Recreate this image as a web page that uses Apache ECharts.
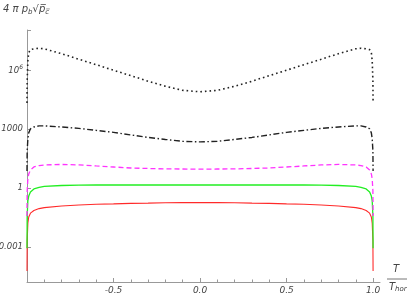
<!DOCTYPE html>
<html>
<head>
<meta charset="utf-8">
<script src="https://cdn.jsdelivr.net/npm/echarts@6/dist/echarts.min.js"></script>
<style>html,body{margin:0;padding:0;background:#fff}#c{width:407px;height:297px}</style>
</head>
<body>
<div id="c"></div>
<script>
// T / T_hor sample positions
var xs = [-1, -0.999, -0.995, -0.99, -0.98, -0.96, -0.93, -0.9, -0.8, -0.7, -0.6, -0.5, -0.4, -0.3, -0.2, -0.1, 0,
          0.1, 0.2, 0.3, 0.4, 0.5, 0.6, 0.7, 0.8, 0.9, 0.93, 0.96, 0.98, 0.99, 0.995, 0.999, 1];

var redVals = [5.8e-5, 2e-3, 0.016, 0.033, 0.052, 0.071, 0.089, 0.1, 0.12, 0.135, 0.147, 0.155, 0.165, 0.17, 0.178, 0.18, 0.18,
               0.18, 0.178, 0.17, 0.165, 0.155, 0.147, 0.135, 0.12, 0.1, 0.089, 0.071, 0.052, 0.033, 0.016, 2e-3, 5.8e-5];

var greenVals = [8.5e-4, 0.037, 0.22, 0.39, 0.63, 0.89, 1.07, 1.2, 1.34, 1.4, 1.42, 1.42, 1.42, 1.42, 1.42, 1.42, 1.42,
                 1.42, 1.42, 1.42, 1.42, 1.42, 1.42, 1.4, 1.34, 1.2, 1.07, 0.89, 0.63, 0.39, 0.22, 0.037, 8.5e-4];

var magentaVals = [0.037, 0.7, 2.9, 5.2, 8.3, 11.8, 14, 15, 15.9, 15, 13.3, 11.8, 10.5, 9.9, 9.4, 9.3, 9.2,
                   9.3, 9.4, 9.9, 10.5, 11.8, 13.3, 15, 15.9, 15, 14, 11.8, 8.3, 5.2, 2.9, 0.7, 0.037];

var dotDashVals = [7.4, 78, 320, 650, 1050, 1300, 1480, 1480, 1300, 1100, 870, 690, 510, 380, 300, 240, 225,
                   240, 300, 380, 510, 690, 870, 1100, 1300, 1480, 1480, 1300, 1050, 650, 320, 78, 7.4];

var dottedVals = [2.2e4, 3e5, 3.1e6, 8e6, 1.15e7, 1.26e7, 1.35e7, 1.26e7, 7.1e6, 3.7e6, 1.95e6, 1.02e6, 5.4e5, 2.8e5, 1.55e5, 9.6e4, 8.1e4,
                  9.6e4, 1.55e5, 2.8e5, 5.4e5, 1.02e6, 1.95e6, 3.7e6, 7.1e6, 1.26e7, 1.35e7, 1.26e7, 1.15e7, 8e6, 3.1e6, 3e5, 2.2e4];

var xMajorTicks = [-0.5, 0, 0.5, 1];
var xMinorTicks = [-0.9, -0.8, -0.7, -0.6, -0.4, -0.3, -0.2, -0.1, 0.1, 0.2, 0.3, 0.4, 0.6, 0.7, 0.8, 0.9];

function pairs(vals) { return xs.map(function (x, i) { return [x, vals[i]]; }); }

var chart = echarts.init(document.getElementById('c'), null, { renderer: 'canvas' });
var axisColor = '#999';
var labelColor = '#444';
var fontFam = 'DejaVu Sans';

function mkSeries(name, vals, color, type, width) {
  return {
    name: name, type: 'line', data: pairs(vals), showSymbol: false, symbol: 'none',
    smooth: false, animation: false,
    lineStyle: { color: color, width: width, type: type, cap: 'butt' }
  };
}

chart.setOption({
  animation: false,
  backgroundColor: '#fff',
  grid: { left: 27, right: 27, top: 30, bottom: 15, containLabel: false, outerBoundsMode: 'none' },
  xAxis: [{
    type: 'value', min: -1, max: 1.04, position: 'bottom',
    axisLine: { onZero: false, lineStyle: { color: axisColor, width: 1 } },
    axisTick: { show: true, inside: true, length: 4, customValues: xMajorTicks, lineStyle: { color: axisColor } },
    minorTick: { show: false },
    splitLine: { show: false },
    axisLabel: {
      customValues: xMajorTicks, margin: 4, fontSize: 9, fontStyle: 'italic', color: labelColor, fontFamily: fontFam,
      formatter: function (v) { return Number(v).toFixed(1); }
    }
  }, {
    type: 'value', min: -1, max: 1.04, position: 'bottom',
    axisLine: { show: false, onZero: false },
    axisTick: { show: true, inside: true, length: 2.5, customValues: xMinorTicks, lineStyle: { color: axisColor } },
    axisLabel: { show: false },
    splitLine: { show: false }
  }],
  yAxis: {
    type: 'log', logBase: 1000, min: 1.6e-5, max: 1.15e8, position: 'left',
    axisLine: { show: true, onZero: false, lineStyle: { color: axisColor, width: 1 } },
    axisTick: { show: true, inside: true, length: 4, lineStyle: { color: axisColor } },
    splitLine: { show: false },
    minorTick: { show: false },
    axisLabel: {
      margin: 4, fontSize: 8.5, fontStyle: 'italic', color: labelColor, fontFamily: fontFam,
      formatter: function (v) {
        var e = Math.round(Math.log10(v));
        if (e === 6) return '10{sup|6}';
        if (e === 3) return '1000';
        if (e === 0) return '1';
        if (e === -3) return '0.001';
        return '';
      },
      rich: { sup: { fontSize: 6, fontStyle: 'italic', color: labelColor, verticalAlign: 'top', padding: [0, 0, 6, 0], fontFamily: fontFam } }
    }
  },
  graphic: [
    {
      type: 'text', left: 3, top: 4,
      style: {
        text: '{a|4 π p}{s|b}{a|√}{o|p̅}{so|c̅ }',
        rich: {
          a: { fontSize: 10, fontStyle: 'italic', fill: labelColor, fontFamily: fontFam },
          o: { fontSize: 10, fontStyle: 'italic', fill: labelColor, fontFamily: fontFam },
          s: { fontSize: 7, fontStyle: 'italic', fill: labelColor, fontFamily: fontFam, padding: [6, 0, 0, 0] },
          so: { fontSize: 7, fontStyle: 'italic', fill: labelColor, fontFamily: fontFam, padding: [6, 0, 0, 0] }
        }
      }
    },
    {
      type: 'text', left: 393, top: 264,
      style: { text: 'T', font: 'italic 10px DejaVu Sans', fill: labelColor }
    },
    {
      type: 'line', shape: { x1: 387, y1: 279, x2: 407, y2: 279 },
      style: { stroke: '#777', lineWidth: 1 }
    },
    {
      type: 'text', left: 389, top: 282,
      style: {
        text: '{a|T}{s|hor}',
        rich: {
          a: { fontSize: 10, fontStyle: 'italic', fill: labelColor, fontFamily: fontFam },
          s: { fontSize: 7, fontStyle: 'italic', fill: labelColor, fontFamily: fontFam, padding: [5, 0, 0, 0] }
        }
      }
    }
  ],
  series: [
    mkSeries('red', redVals, '#ff2a2a', 'solid', 1.1),
    mkSeries('green', greenVals, '#22ee22', 'solid', 1.3),
    mkSeries('magenta', magentaVals, '#ff33ff', [5, 3], 1.3),
    mkSeries('dotdash', dotDashVals, '#222', [6, 2.5, 1.5, 2.5], 1.4),
    mkSeries('dotted', dottedVals, '#222', [1.6, 3], 1.6)
  ]
});
</script>
</body>
</html>
